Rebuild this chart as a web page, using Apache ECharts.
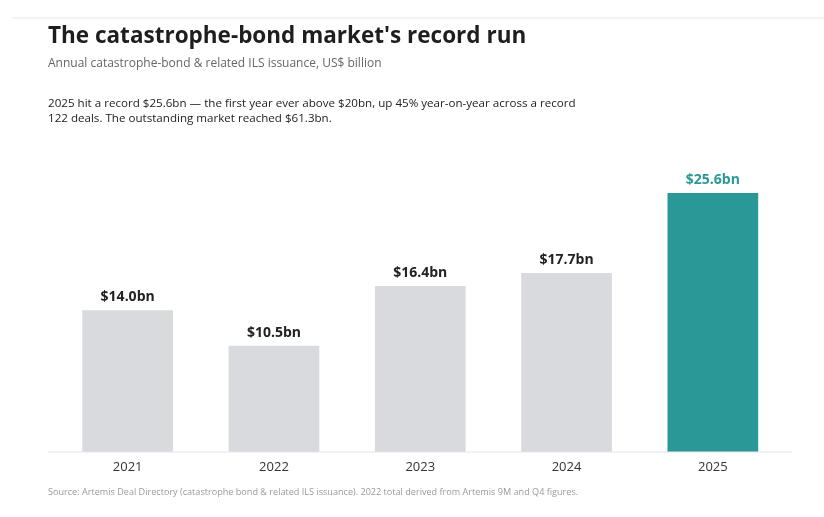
<!DOCTYPE html>
<html>
<head>
<meta charset="utf-8">
<script src="https://cdn.jsdelivr.net/npm/echarts@6/dist/echarts.min.js"></script>
<style>
html,body{margin:0;padding:0;background:#fff;}
#c{width:824px;height:517px;}
</style>
</head>
<body>
<div id="c"></div>
<script>
const categories = ['2021', '2022', '2023', '2024', '2025'];
const issuance = [14.0, 10.5, 16.4, 17.7, 25.6];
const highlightYear = '2025';

const titleText = "The catastrophe-bond market's record run";
const subtitleText = 'Annual catastrophe-bond & related ILS issuance, US$ billion';
const noteLines = [
  '2025 hit a record $25.6bn \u2014 the first year ever above $20bn, up 45% year-on-year across a record',
  '122 deals. The outstanding market reached $61.3bn.'
];
const sourceText = 'Source: Artemis Deal Directory (catastrophe bond & related ILS issuance). 2022 total derived from Artemis 9M and Q4 figures.';

const TEAL = '#2a9896';
const GREY = '#d9dadd';
const FONT = '"Open Sans", "Noto Sans", sans-serif';

const chart = echarts.init(document.getElementById('c'), null, {renderer: 'canvas'});

const data = categories.map((c, i) => {
  const hl = c === highlightYear;
  return {
    value: issuance[i],
    itemStyle: {color: hl ? TEAL : GREY},
    label: {color: hl ? TEAL : '#222222'}
  };
});

chart.setOption({
  backgroundColor: '#ffffff',
  animation: false,
  textStyle: {fontFamily: FONT},
  graphic: [
    {type: 'rect', shape: {x: 12, y: 17.5, width: 812, height: 1}, style: {fill: '#e9e9e9'}, silent: true},
    {type: 'text', left: 48, top: 25.5, style: {text: titleText, font: 'bold 22.5px ' + FONT, fill: '#1e1e1e'}},
    {type: 'text', left: 48, top: 57.5, style: {text: subtitleText, font: '12px ' + FONT, fill: '#666666'}},
    {type: 'text', left: 48, top: 96.5, style: {text: noteLines.join('\n'), font: '11.6px ' + FONT, fill: '#222222', lineHeight: 15}},
    {type: 'rect', shape: {x: 48, y: 451.5, width: 744, height: 1}, style: {fill: '#e6e6e6'}, silent: true, z: 10},
    {type: 'text', left: 48, top: 487.5, style: {text: sourceText, font: '9.1px ' + FONT, fill: '#9a9a9a'}}
  ],
  grid: {left: 54.5, right: 38, top: 148.4, bottom: 65, containLabel: false},
  xAxis: {
    type: 'category',
    data: categories,
    axisLine: {show: false},
    axisTick: {show: false},
    axisLabel: {color: '#333333', fontSize: 13, margin: 9, fontFamily: FONT}
  },
  yAxis: {
    type: 'value',
    min: 0,
    max: 30,
    show: false,
    splitLine: {show: false}
  },
  series: [{
    type: 'bar',
    data: data,
    barWidth: '62%',
    label: {
      show: true,
      position: 'top',
      distance: 6,
      fontSize: 14,
      fontWeight: 'bold',
      fontFamily: FONT,
      formatter: p => '$' + p.value.toFixed(1) + 'bn'
    }
  }]
});
</script>
</body>
</html>
